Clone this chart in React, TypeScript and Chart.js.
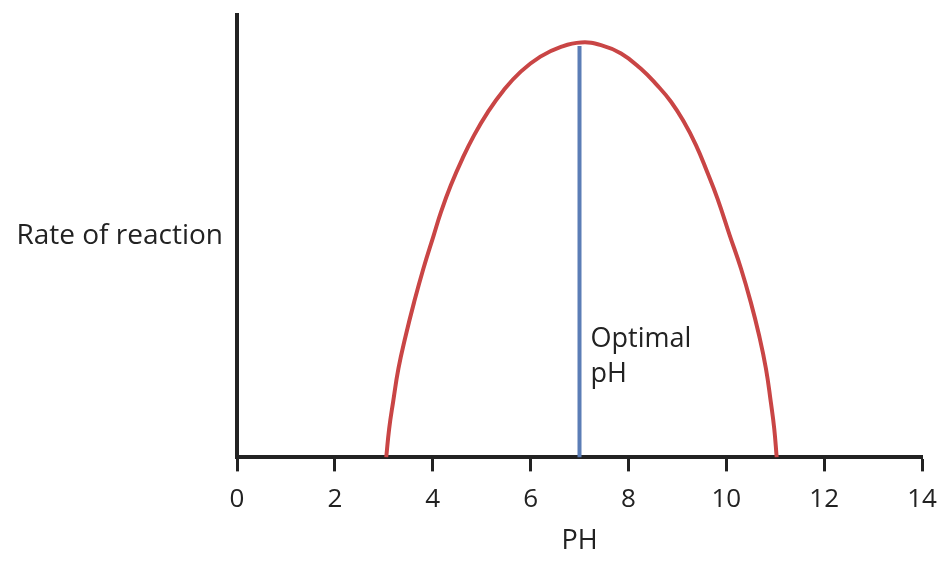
import React, { useEffect, useRef } from 'react'
import { Chart, registerables } from 'chart.js'

Chart.register(...registerables)

// pH values and reaction rate
const phValues = [3.05, 3.11, 3.19, 3.3, 3.45, 3.62, 3.81, 4.02, 4.17, 4.37, 4.61, 4.85, 5.13, 5.45, 5.8, 6.2, 6.62, 7.03, 7.44, 7.85, 8.25, 8.58, 8.87, 9.13, 9.38, 9.61, 9.82, 10.07, 10.3, 10.5, 10.67, 10.81, 10.91, 10.98, 11.03]
const rateValues = [0, 6.5, 12.5, 20.1, 27.6, 35.1, 42.7, 50.2, 55.5, 61.5, 67.6, 72.9, 78.1, 83.0, 87.2, 90.6, 92.8, 93.8, 93.2, 91.3, 87.9, 84.2, 80.4, 75.9, 70.6, 64.5, 58.5, 50.2, 42.7, 35.1, 27.6, 20.1, 12.5, 6.5, 0]

const optimalPh = [7, 7]
const optimalRate = [0, 93]

const xTicks = [0, 2, 4, 6, 8, 10, 12, 14]

const FONT = '"Open Sans", "Noto Sans", sans-serif'
const INK = '#222222'

const labelsPlugin = {
  id: 'labels',
  afterDraw(chart) {
    const { ctx, scales } = chart
    const x = scales.x
    const y = scales.y
    ctx.save()
    ctx.fillStyle = INK
    ctx.font = '28px ' + FONT
    ctx.textBaseline = 'middle'
    ctx.textAlign = 'right'
    ctx.fillText('Rate of reaction', x.left - 14, y.getPixelForValue(50))
    ctx.font = '27px ' + FONT
    ctx.textAlign = 'left'
    ctx.textBaseline = 'alphabetic'
    const ax = x.getPixelForValue(7) + 11
    ctx.fillText('Optimal', ax, y.getPixelForValue(25))
    ctx.fillText('pH', ax, y.getPixelForValue(17))
    ctx.restore()
  }
}

const App = () => {
  const chartRef = useRef(null)
  const chartInstanceRef = useRef(null)

  useEffect(() => {
    const ctx = chartRef.current.getContext('2d')

    const chartData = {
      datasets: [
        {
          label: 'Rate',
          data: phValues.map((v, i) => ({ x: v, y: rateValues[i] })),
          showLine: true,
          borderColor: '#c94545',
          borderWidth: 4,
          pointRadius: 0,
          tension: 0.45,
          fill: false
        },
        {
          label: 'Optimal pH',
          data: optimalPh.map((v, i) => ({ x: v, y: optimalRate[i] })),
          showLine: true,
          borderColor: '#5b7db6',
          borderWidth: 4,
          pointRadius: 0
        }
      ]
    }

    const chartOptions = {
      animation: false,
      responsive: true,
      maintainAspectRatio: false,
      layout: { padding: { left: 229, right: 28, top: 15, bottom: 12 } },
      plugins: {
        legend: { display: false },
        tooltip: { enabled: false }
      },
      scales: {
        x: {
          type: 'linear',
          min: 0,
          max: 14,
          afterBuildTicks: (axis) => {
            axis.ticks = xTicks.map((v) => ({ value: v }))
          },
          border: { display: true, color: INK, width: 4 },
          grid: {
            drawOnChartArea: false,
            drawTicks: true,
            tickLength: 14,
            tickWidth: 3,
            tickColor: INK
          },
          ticks: {
            color: INK,
            padding: 13,
            font: { family: FONT, size: 26 },
            maxRotation: 0
          },
          title: {
            display: true,
            text: 'PH',
            color: INK,
            font: { family: FONT, size: 27 },
            padding: { top: -3, bottom: 0 }
          }
        },
        y: {
          min: 0,
          max: 100,
          border: { display: true, color: INK, width: 4 },
          grid: { display: false },
          ticks: { display: false }
        }
      }
    }

    chartInstanceRef.current = new Chart(ctx, {
      type: 'scatter',
      data: chartData,
      options: chartOptions,
      plugins: [labelsPlugin]
    })

    return () => {
      chartInstanceRef.current.destroy()
    }
  }, [])

  return (
    <div style={{ position: 'fixed', left: 0, top: 0, width: 950, height: 570, background: '#fff' }}>
      <canvas ref={chartRef}></canvas>
    </div>
  )
}

export default App
